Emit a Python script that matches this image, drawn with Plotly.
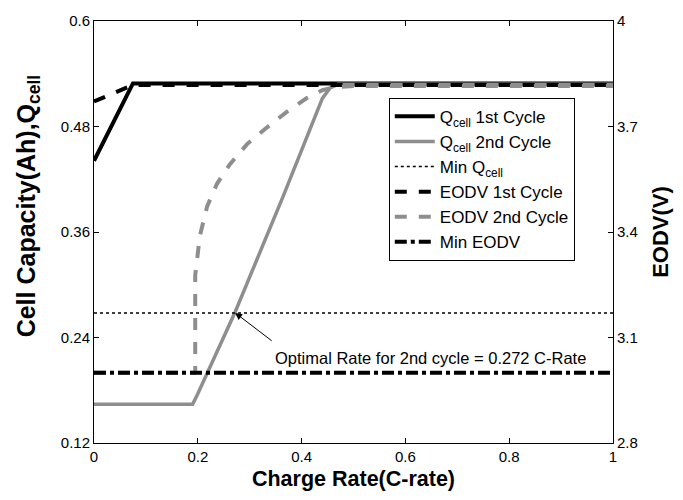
import plotly.graph_objects as go

# ---- data ----
x_q1 = [0, 0.075, 1]
q1 = [0.441, 0.529, 0.529]

x_q2 = [0, 0.19, 0.20, 0.272, 0.364, 0.44, 0.455, 0.47, 1]
q2 = [0.164, 0.164, 0.176, 0.269, 0.40, 0.512, 0.524, 0.528, 0.528]

x_e1 = [0, 0.075, 1]
e1 = [3.771, 3.818, 3.818]

x_e2 = [0, 0.195, 0.195, 0.204, 0.218, 0.237, 0.262, 0.295, 0.333, 0.372,
        0.410, 0.441, 0.468, 0.5, 1]
e2 = [3.0, 3.0, 3.277, 3.389, 3.473, 3.537, 3.593, 3.650, 3.697, 3.742,
      3.781, 3.804, 3.812, 3.815, 3.815]

x_range = [0, 1]
min_q = 0.268
min_eodv = 3.0
opt_rate = 0.272

x_ticks = [0, 0.2, 0.4, 0.6, 0.8, 1]
x_ticklabels = ["0", "0.2", "0.4", "0.6", "0.8", "1"]
y_ticks = [0.12, 0.24, 0.36, 0.48, 0.6]
y_ticklabels = ["0.12", "0.24", "0.36", "0.48", "0.6"]
y2_ticks = [2.8, 3.1, 3.4, 3.7, 4]
y2_ticklabels = ["2.8", "3.1", "3.4", "3.7", "4"]

GRAY = "#8e8e8e"
FONT = "Liberation Sans, Arial, sans-serif"

fig = go.Figure()
fig.add_trace(go.Scatter(x=x_q1, y=q1, mode="lines", name="Q<sub>cell</sub> 1st Cycle",
                         line=dict(color="black", width=4)))
fig.add_trace(go.Scatter(x=x_q2, y=q2, mode="lines", name="Q<sub>cell</sub> 2nd Cycle",
                         line=dict(color=GRAY, width=3.5)))
fig.add_trace(go.Scatter(x=x_range, y=[min_q, min_q], mode="lines", name="Min Q<sub>cell</sub>",
                         line=dict(color="black", width=1.5, dash="dot")))
fig.add_trace(go.Scatter(x=x_e1, y=e1, mode="lines", name="EODV 1st Cycle", yaxis="y2",
                         line=dict(color="black", width=4, dash="dash")))
fig.add_trace(go.Scatter(x=x_e2, y=e2, mode="lines", name="EODV 2nd Cycle", yaxis="y2",
                         line=dict(color=GRAY, width=4, dash="dash")))
fig.add_trace(go.Scatter(x=x_range, y=[min_eodv, min_eodv], mode="lines", name="Min EODV",
                         yaxis="y2", line=dict(color="black", width=4, dash="dashdot")))

axis_common = dict(showgrid=False, zeroline=False, showline=True, linecolor="black",
                   linewidth=1, ticks="inside", ticklen=5, tickcolor="black",
                   tickfont=dict(family=FONT, size=15, color="black"))

fig.update_layout(
    width=683, height=500,
    margin=dict(l=94, r=70, t=15, b=57),
    paper_bgcolor="white", plot_bgcolor="white",
    font=dict(family=FONT, color="black"),
    xaxis=dict(range=x_range, tickvals=x_ticks, ticktext=x_ticklabels, mirror="ticks",
               title=dict(text="<b>Charge Rate(C-rate)</b>", font=dict(size=21.5), standoff=6),
               **axis_common),
    yaxis=dict(range=[0.12, 0.6], tickvals=y_ticks, ticktext=y_ticklabels, **axis_common),
    yaxis2=dict(range=[2.8, 4], tickvals=y2_ticks, ticktext=y2_ticklabels, overlaying="y",
                side="right",
                title=dict(text="<b>EODV(V)</b>", font=dict(size=22), standoff=15),
                **axis_common),
    legend=dict(x=0.568, y=0.818, xanchor="left", yanchor="top", bgcolor="white",
                bordercolor="black", borderwidth=1, font=dict(family=FONT, size=17, color="black"),
                tracegroupgap=0, itemwidth=40),
    showlegend=True,
)

# left axis title placed as paper annotation (reference title sits above plot centre)
fig.add_annotation(x=-0.127, y=0.561, xref="paper", yref="paper",
                   text="<b>Cell Capacity(Ah),Q<sub>cell</sub></b>", textangle=-90,
                   showarrow=False, xanchor="center", yanchor="middle",
                   font=dict(family=FONT, size=25, color="black"))

fig.add_annotation(x=opt_rate, y=min_q, xref="x", yref="y", text="", showarrow=True,
                   arrowhead=2, arrowsize=1.4, arrowwidth=1, arrowcolor="black",
                   ax=38, ay=29)
fig.add_annotation(x=opt_rate, y=min_q, xref="x", yref="y",
                   text="Optimal Rate for 2nd cycle = 0.272 C-Rate", showarrow=False,
                   xanchor="left", yanchor="middle", xshift=38, yshift=-45,
                   font=dict(family=FONT, size=16.5, color="black"))

fig.write_html("out.html")
